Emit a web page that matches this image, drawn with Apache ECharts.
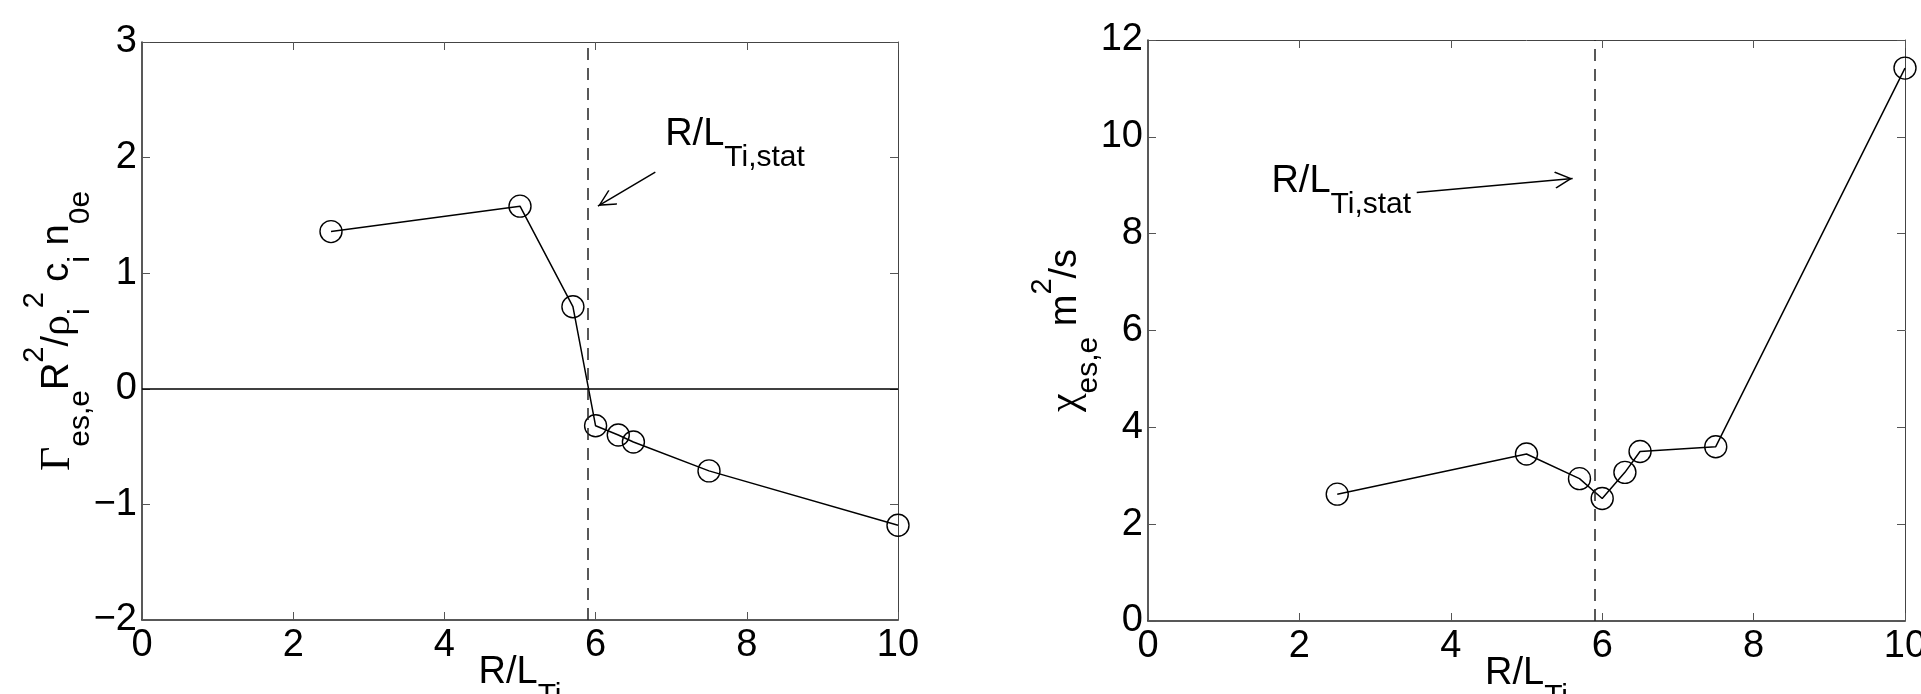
<!DOCTYPE html>
<html>
<head>
<meta charset="utf-8">
<script src="https://cdn.jsdelivr.net/npm/echarts@6/dist/echarts.min.js"></script>
<style>
html,body{margin:0;padding:0;background:#fff;}
#c{width:1921px;height:694px;}
</style>
</head>
<body>
<div id="c"></div>
<script>
// ---- data ----
const fluxRLT = [2.5, 5.0, 5.7, 6.0, 6.3, 6.5, 7.5, 10.0];
const fluxValues = [1.36, 1.58, 0.71, -0.32, -0.40, -0.46, -0.71, -1.18];
const chiRLT = [2.5, 5.0, 5.7, 6.0, 6.3, 6.5, 7.5, 10.0];
const chiValues = [2.62, 3.45, 2.94, 2.53, 3.07, 3.50, 3.60, 11.42];
const statRLT = 5.9;
const xTickRange = [0, 10, 2];
const fluxTickRange = [-2, 3, 1];
const chiTickRange = [0, 12, 2];
// annotation anchors (data coordinates)
const leftNoteAt = [6.92, 2.20];
const leftArrow = [[6.79, 1.875], [6.03, 1.58]];
const rightNoteAt = [1.63, 9.08];
const rightArrow = [[3.55, 8.85], [5.61, 9.14]];

const FONT = 'Liberation Sans';
const SERIF = 'Liberation Serif';
const RICH = {
  m:   {fontFamily: FONT,  fontSize: 38, color: '#000', lineHeight: 76, verticalAlign: 'middle'},
  g:   {fontFamily: SERIF, fontSize: 42, color: '#000', lineHeight: 76, verticalAlign: 'middle'},
  sub: {fontFamily: FONT,  fontSize: 30, color: '#000', lineHeight: 27, verticalAlign: 'bottom'},
  sup: {fontFamily: FONT,  fontSize: 29, color: '#000', lineHeight: 52, verticalAlign: 'top'}
};
// open "V" arrow head, tip at the centre of its bounding box
const ARROW = 'path://M10,-17 L10.01,-17 Z M10,0 L20,15.5 L18.7,16.5 L10,3 L1.3,16.5 L0,15.5 Z';

const pairs = (xs, ys) => xs.map((x, i) => [x, ys[i]]);
const minusFmt = v => String(v).replace('-', '\u2212');

function axisPair(kind, grid, range, name, nameGap) {
  const main = {
    type: 'value', gridIndex: grid, min: range[0], max: range[1], interval: range[2],
    position: kind === 'x' ? 'bottom' : 'left',
    axisLine: {show: true, onZero: false, lineStyle: {color: '#222', width: 1.5}},
    axisTick: {show: true, inside: true, length: 8, lineStyle: {color: '#555', width: 1}},
    axisLabel: {show: true, margin: kind === 'x' ? 7 : 5, fontSize: 38, fontFamily: FONT, color: '#000',
                formatter: minusFmt},
    splitLine: {show: false},
    name: name, nameLocation: 'middle', nameGap: nameGap, nameMoveOverlap: false,
    nameTextStyle: {fontFamily: FONT, fontSize: 38, color: '#000', rich: RICH}
  };
  const mirror = {
    type: 'value', gridIndex: grid, min: range[0], max: range[1], interval: range[2],
    position: kind === 'x' ? 'top' : 'right',
    axisLine: {show: true, onZero: false, lineStyle: {color: '#444', width: 1}},
    axisTick: {show: true, inside: true, length: 8, lineStyle: {color: '#555', width: 1}},
    axisLabel: {show: false},
    splitLine: {show: false}
  };
  return [main, mirror];
}

function noteLabel() {
  return {
    show: true, position: [0, 0], align: 'left', verticalAlign: 'middle',
    formatter: '{m|R/L}{sub|Ti,stat}', rich: RICH
  };
}

const arrowPair = (pts) => [
  {coord: pts[0], symbol: 'none', lineStyle: {type: 'solid', color: '#000', width: 1.5}},
  {coord: pts[1], symbol: ARROW, symbolSize: [17, 36]}
];

const lineSeries = (xi, yi, data, marks) => ({
  type: 'line', xAxisIndex: xi, yAxisIndex: yi, data: data,
  symbol: 'circle', symbolSize: 22, showSymbol: true,
  itemStyle: {color: 'rgba(0,0,0,0)', borderColor: '#000', borderWidth: 1.4},
  lineStyle: {color: '#000', width: 1.5},
  emphasis: {disabled: true}, silent: true, animation: false, z: 3,
  markLine: marks.markLine, markPoint: marks.markPoint
});

const option = {
  backgroundColor: '#fff',
  animation: false,
  grid: [
    {left: 142, top: 42, width: 756, height: 578, containLabel: false, outerBoundsMode: 'none'},
    {left: 1148, top: 40, width: 757, height: 581, containLabel: false, outerBoundsMode: 'none'}
  ],
  xAxis: [
    ...axisPair('x', 0, xTickRange, '{m|R/L}{sub|Ti}', 15),
    ...axisPair('x', 1, xTickRange, '{m|R/L}{sub|Ti}', 15)
  ],
  yAxis: [
    ...axisPair('y', 0, fluxTickRange,
      '{g|\u0393}{sub|es,e}{m|R}{sup|2}{m|/}{g|\u03c1}{sub|i}{sup|2}{m| c}{sub|i}{m| n}{sub|0e}', 46),
    ...axisPair('y', 1, chiTickRange, '{g|\u03c7}{sub|es,e}{m| m}{sup|2}{m|/s}', 44)
  ],
  series: [
    lineSeries(0, 0, pairs(fluxRLT, fluxValues), {
      markLine: {
        silent: true, animation: false, symbol: 'none', label: {show: false},
        emphasis: {disabled: true},
        data: [
          {xAxis: statRLT, lineStyle: {type: [12, 8], color: '#222', width: 1.5}},
          {yAxis: 0, lineStyle: {type: 'solid', color: '#000', width: 1.5}},
          arrowPair(leftArrow)
        ]
      },
      markPoint: {
        silent: true, animation: false, symbol: 'circle', symbolSize: 0,
        itemStyle: {color: 'rgba(0,0,0,0)'},
        data: [{coord: leftNoteAt, label: noteLabel()}]
      }
    }),
    lineSeries(2, 2, pairs(chiRLT, chiValues), {
      markLine: {
        silent: true, animation: false, symbol: 'none', label: {show: false},
        emphasis: {disabled: true},
        data: [
          {xAxis: statRLT, lineStyle: {type: [12, 8], color: '#222', width: 1.5}},
          arrowPair(rightArrow)
        ]
      },
      markPoint: {
        silent: true, animation: false, symbol: 'circle', symbolSize: 0,
        itemStyle: {color: 'rgba(0,0,0,0)'},
        data: [{coord: rightNoteAt, label: noteLabel()}]
      }
    })
  ]
};

const chart = echarts.init(document.getElementById('c'));
chart.setOption(option);
</script>
</body>
</html>
